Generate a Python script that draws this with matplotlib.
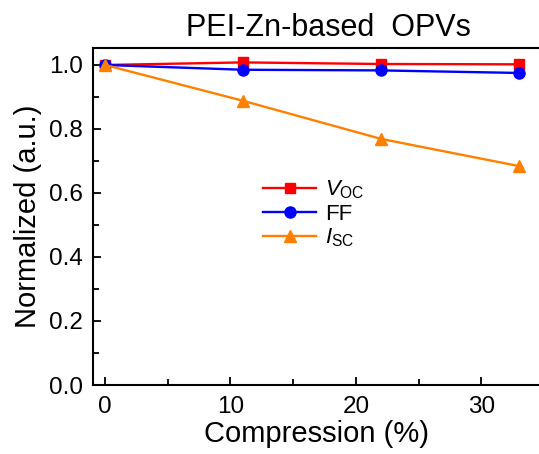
import matplotlib.pyplot as plt
from matplotlib.ticker import MultipleLocator

plt.rcParams['font.family'] = ['Liberation Sans', 'DejaVu Sans']
plt.rcParams['mathtext.fontset'] = 'custom'
plt.rcParams['mathtext.rm'] = 'Liberation Sans'
plt.rcParams['mathtext.it'] = 'Liberation Sans:italic'

# compression strain (%) and normalized device parameters
compression = [0, 11, 22, 33]
voc = [1.0, 1.008, 1.003, 1.002]
ff = [1.0, 0.985, 0.983, 0.975]
isc = [1.0, 0.888, 0.769, 0.684]

W, H = 539, 454
fig = plt.figure(figsize=(W / 100, H / 100), dpi=100)
# right spine sits just past the canvas edge
x0, x1, y0, y1 = 92.5, 541.5, 48, 385
ax = fig.add_axes([x0 / W, 1 - y1 / H, (x1 - x0) / W, (y1 - y0) / H])

ax.plot(compression, voc, '-s', color='red', lw=1.7, ms=7, label=r'$V_{\mathrm{OC}}$')
ax.plot(compression, ff, '-o', color='blue', lw=1.7, ms=8, label='FF')
ax.plot(compression, isc, '-^', color='#ff8000', lw=1.7, ms=9, label=r'$I_{\mathrm{SC}}$')

ax.set_xlim(-1, -1 + (x1 - x0) / 12.545)
ax.set_ylim(0, 1.053)
ax.xaxis.set_major_locator(MultipleLocator(10))
ax.xaxis.set_minor_locator(MultipleLocator(5))
ax.yaxis.set_major_locator(MultipleLocator(0.2))
ax.yaxis.set_minor_locator(MultipleLocator(0.1))
ax.yaxis.set_major_formatter(lambda v, p: f'{v:.1f}')
ax.tick_params(which='both', direction='in', width=1.3, labelsize=17.5, top=False, right=False)
ax.tick_params(which='major', length=6)
ax.tick_params(which='minor', length=4)
ax.tick_params(axis='x', pad=8)
ax.tick_params(axis='y', pad=7)
for s in ax.spines.values():
    s.set_linewidth(1.5)

ax.set_xlabel('Compression (%)', fontsize=21, labelpad=1)
ax.set_ylabel('Normalized (a.u.)', fontsize=21, labelpad=5)
fig.text(328 / W, 1 - 36 / H, 'PEI-Zn-based  OPVs', fontsize=22, ha='center', va='baseline')

ax.legend(loc='center left', bbox_to_anchor=(263 / W, 1 - 214 / H), bbox_transform=fig.transFigure,
          frameon=False, fontsize=16, borderpad=0, borderaxespad=0,
          handlelength=2.4, labelspacing=0.1, handletextpad=0.4)

fig.savefig('out.png', dpi=100)
